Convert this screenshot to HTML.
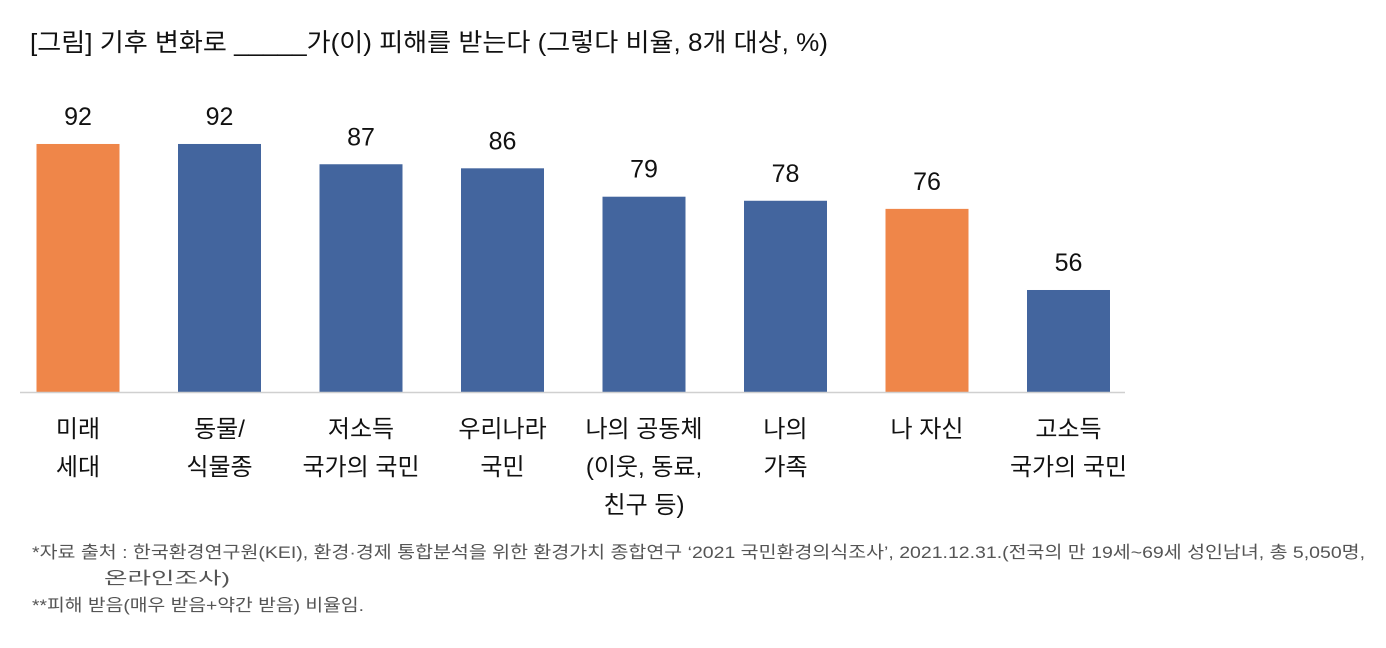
<!DOCTYPE html>
<html><head><meta charset="utf-8">
<style>
html,body{margin:0;padding:0;background:#fff;}
svg{display:block;font-family:"Liberation Sans","Noto Sans CJK KR",sans-serif;}
</style></head>
<body>
<svg id="chart" width="1386" height="648" viewBox="0 0 1386 648">
  <text x="30" y="51" font-size="25" fill="#111" textLength="798" lengthAdjust="spacingAndGlyphs">[그림] 기후 변화로 _____가(이) 피해를 받는다 (그렇다 비율, 8개 대상, %)</text>
  <g id="bars"></g>
  <line x1="20" y1="392.5" x2="1125" y2="392.5" stroke="#d0d0d0" stroke-width="1.5"/>
  <g id="cats"></g>
  <text x="32" y="558" font-size="17" fill="#555" textLength="1333" lengthAdjust="spacingAndGlyphs">*자료 출처 : 한국환경연구원(KEI), 환경·경제 통합분석을 위한 환경가치 종합연구 ‘2021 국민환경의식조사’, 2021.12.31.(전국의 만 19세~69세 성인남녀, 총 5,050명,</text>
  <text x="104" y="584" font-size="17" fill="#555" textLength="126" lengthAdjust="spacingAndGlyphs">온라인조사)</text>
  <text x="32" y="611" font-size="17" fill="#555" textLength="332" lengthAdjust="spacingAndGlyphs">**피해 받음(매우 받음+약간 받음) 비율임.</text>
</svg>
<script>
const categories = [["미래","세대"],["동물/","식물종"],["저소득","국가의 국민"],["우리나라","국민"],["나의 공동체","(이웃, 동료,","친구 등)"],["나의","가족"],["나 자신"],["고소득","국가의 국민"]];
const values = [92,92,87,86,79,78,76,56];
const highlight = [true,false,false,false,false,false,true,false];
const NS="http://www.w3.org/2000/svg";
const baseY=392, yMin=30.85, k=4.056;
const y = v => baseY-(v-yMin)*k;
const xc = i => 78 + i*141.5;
const bw = 83;
const gb=document.getElementById('bars'), gc=document.getElementById('cats');
values.forEach((v,i)=>{
  const r=document.createElementNS(NS,'rect');
  r.setAttribute('x',xc(i)-bw/2);r.setAttribute('y',y(v));
  r.setAttribute('width',bw);r.setAttribute('height',baseY-y(v));
  r.setAttribute('fill',highlight[i]?'#ef8649':'#43659e');
  
  
  gb.appendChild(r);
  const t=document.createElementNS(NS,'text');
  t.setAttribute('x',xc(i));t.setAttribute('y',y(v)-19);
  t.setAttribute('text-anchor','middle');t.setAttribute('font-size','25');t.setAttribute('fill','#111');
  t.textContent=v;
  
  
  gb.appendChild(t);
  categories[i].forEach((line,j)=>{
    const c=document.createElementNS(NS,'text');
    c.setAttribute('x',xc(i));c.setAttribute('y',437+j*38);
    c.setAttribute('text-anchor','middle');c.setAttribute('font-size','24');c.setAttribute('fill','#111');
    c.textContent=line;
    
    
    gc.appendChild(c);
  });
});
</script>
</body></html>
